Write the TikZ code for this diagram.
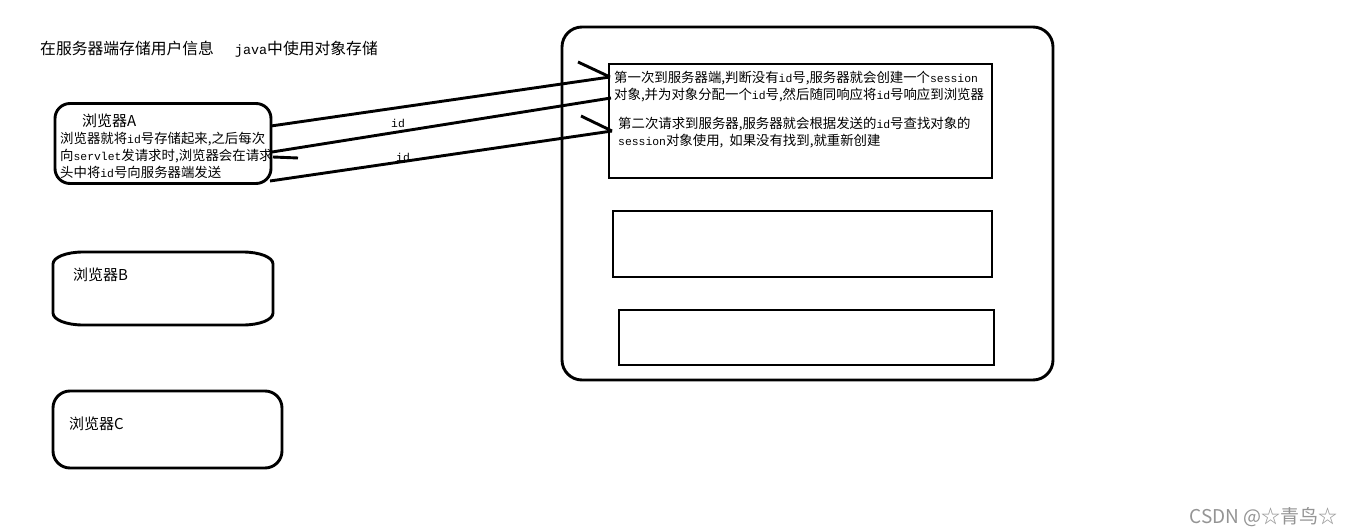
\documentclass[tikz,border=0pt]{standalone}
\usepackage{fontspec}
\setmainfont{Noto Sans CJK SC}
\setmonofont{Liberation Mono}[Scale=0.85]
\begin{document}
\begin{tikzpicture}[x=1pt,y=-1pt,
  box/.style={draw, line width=2.9pt, inner sep=0pt, outer sep=0pt},
  lbl/.style={inner sep=0pt, anchor=west, font=\fontsize{15}{18}\selectfont},
  txt/.style={inner sep=0pt, anchor=west, align=left, font=\fontsize{13.4}{17.2}\selectfont},
  link/.style={line width=2.9pt},
  idlbl/.style={inner sep=0pt, font=\fontsize{13.4}{16}\selectfont\ttfamily}]
\useasboundingbox (0,0) rectangle (1349,532);
\fill[white] (0,0) rectangle (1349,532);

% title
\node[lbl, font=\fontsize{15.8}{18}\selectfont] (title) at (40,49) {在服务器端存储用户信息\hspace{21pt}\texttt{java}中使用对象存储};

% browser A
\node[box, rounded corners=15pt, minimum width=216pt, minimum height=80pt] (brA) at (163,143.5) {};
\node[lbl] (brAlabel) at (82,121) {浏览器A};
\node[txt] (brAtext) at (60,155.6) {浏览器就将\texttt{id}号存储起来,之后每次\\向\texttt{servlet}发请求时,浏览器会在请求\\头中将\texttt{id}号向服务器端发送};

% browser B (elliptic corners)
\draw[line width=2.9pt] (83,252) -- (243,252)
  .. controls (259,252) and (273,257) .. (273,264) -- (273,313)
  .. controls (273,320) and (259,325) .. (243,325) -- (83,325)
  .. controls (67,325) and (53,320) .. (53,313) -- (53,264)
  .. controls (53,257) and (67,252) .. cycle;
\node[lbl] (brBlabel) at (73,275) {浏览器B};

% browser C
\node[box, rounded corners=17pt, minimum width=229pt, minimum height=77pt] (brC) at (167.5,429.5) {};
\node[lbl] (brClabel) at (69,424) {浏览器C};

% server
\node[box, rounded corners=20pt, minimum width=491pt, minimum height=353pt] (server) at (807.5,203.5) {};
\node[box, minimum width=383pt, minimum height=114pt] (box1) at (800.5,121) {};
\node[box, minimum width=379pt, minimum height=66pt] (box2) at (802.5,244) {};
\node[box, minimum width=375pt, minimum height=55pt] (box3) at (806.5,337.5) {};

\node[txt] (t1) at (614,86.5) {第一次到服务器端,判断没有\texttt{id}号,服务器就会创建一个\texttt{session}\\对象,并为对象分配一个\texttt{id}号,然后随同响应将\texttt{id}号响应到浏览器};
\node[txt] (t2) at (618,132.5) {第二次请求到服务器,服务器就会根据发送的\texttt{id}号查找对象的\\\texttt{session}对象使用, \ 如果没有找到,就重新创建};

% connectors
\coordinate (a1) at (271,126);
\coordinate (b1) at (610,77);
\coordinate (a2) at (272,152);
\coordinate (b2) at (611,98);
\coordinate (a3) at (270,181);
\coordinate (b3) at (612,131);
\coordinate (k1) at (578,62);
\coordinate (k2) at (581,116);
\coordinate (s1) at (273,157);
\coordinate (s2) at (298,158);
\draw[link] (a1) -- (b1);
\draw[link] (a2) -- (b2);
\draw[link] (a3) -- (b3);
\draw[link] (k1) -- (b1);
\draw[link] (k2) -- (b3);
\draw[link] (s1) -- (s2);
\node[idlbl] (id1) at (398,123) {id};
\node[idlbl] (id2) at (403,157) {id};

% watermark
\node[inner sep=0pt, anchor=east, text=black!42, font=\fontsize{19}{21}\selectfont] (wm) at (1338,517) {CSDN @☆青鸟☆};
\end{tikzpicture}
\end{document}
